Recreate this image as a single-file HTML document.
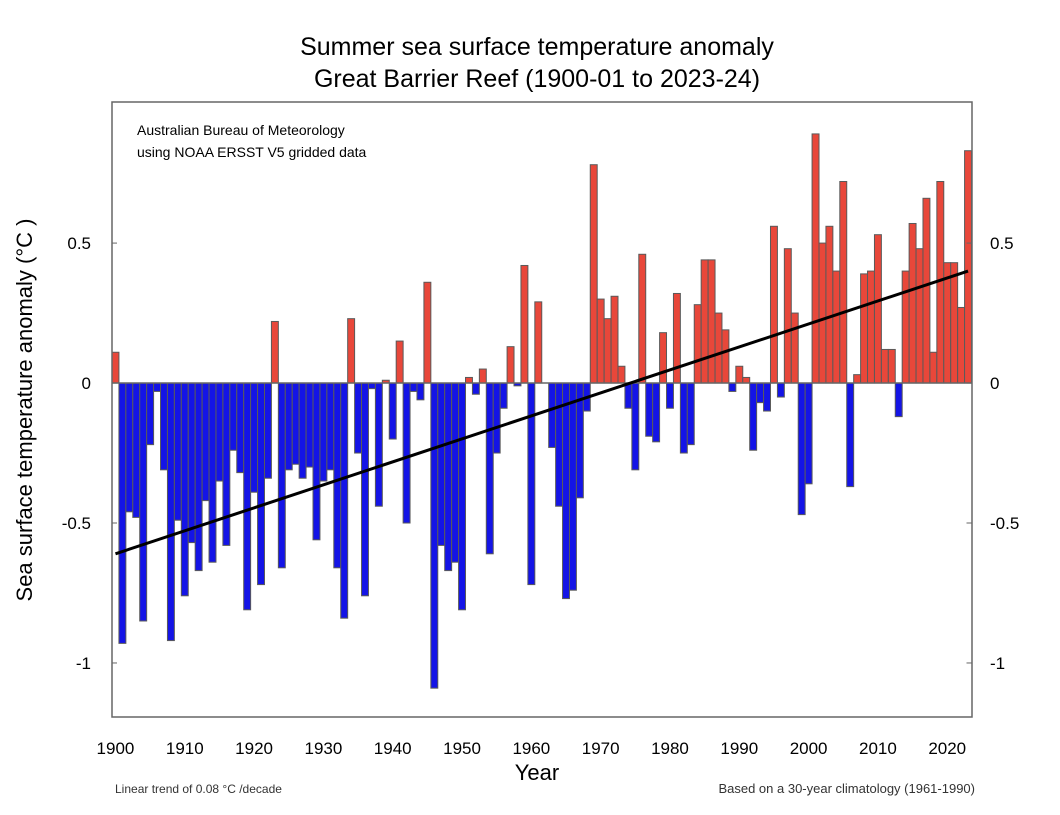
<!DOCTYPE html>
<html><head><meta charset="utf-8"><style>
body{margin:0;background:#fff;width:1060px;height:810px;overflow:hidden;font-family:"Liberation Sans",sans-serif}
</style></head><body>
<svg id="c" width="1060" height="810" font-family="Liberation Sans, sans-serif">
<text x="537" y="55" font-size="25" text-anchor="middle">Summer sea surface temperature anomaly</text>
<text x="537" y="87" font-size="25" text-anchor="middle">Great Barrier Reef (1900-01 to 2023-24)</text>
<text x="137" y="135" font-size="14">Australian Bureau of Meteorology</text>
<text x="137" y="157" font-size="14">using NOAA ERSST V5 gridded data</text>
<g id="bars"></g>
<polyline id="trend" fill="none" stroke="#000" stroke-width="3"/>
<rect x="112" y="102" width="860" height="615" fill="none" stroke="#666" stroke-width="1.5"/>
<g id="ticks"></g>
<text transform="translate(32,410) rotate(-90)" font-size="22" text-anchor="middle">Sea surface temperature anomaly (°C )</text>
<text x="537" y="780" font-size="22" text-anchor="middle">Year</text>
<text x="115" y="793" font-size="12" fill="#333">Linear trend of 0.08 °C /decade</text>
<text x="975" y="793" font-size="13" fill="#333" text-anchor="end">Based on a 30-year climatology (1961-1990)</text>
</svg>
<script>
const startYear = 1900;
const anomalies = [0.11,-0.93,-0.46,-0.48,-0.85,-0.22,-0.03,-0.31,-0.92,-0.49,
-0.76,-0.57,-0.67,-0.42,-0.64,-0.35,-0.58,-0.24,-0.32,-0.81,
-0.39,-0.72,-0.34,0.22,-0.66,-0.31,-0.29,-0.34,-0.30,-0.56,
-0.35,-0.31,-0.66,-0.84,0.23,-0.25,-0.76,-0.02,-0.44,0.01,
-0.20,0.15,-0.50,-0.03,-0.06,0.36,-1.09,-0.58,-0.67,-0.64,
-0.81,0.02,-0.04,0.05,-0.61,-0.25,-0.09,0.13,-0.01,0.42,
-0.72,0.29,0.00,-0.23,-0.44,-0.77,-0.74,-0.41,-0.10,0.78,
0.30,0.23,0.31,0.06,-0.09,-0.31,0.46,-0.19,-0.21,0.18,
-0.09,0.32,-0.25,-0.22,0.28,0.44,0.44,0.25,0.19,-0.03,
0.06,0.02,-0.24,-0.07,-0.10,0.56,-0.05,0.48,0.25,-0.47,
-0.36,0.89,0.50,0.56,0.40,0.72,-0.37,0.03,0.39,0.40,
0.53,0.12,0.12,-0.12,0.40,0.57,0.48,0.66,0.11,0.72,
0.43,0.43,0.27,0.83];
const trendEnds = [-0.61, 0.40];
const xTicks = [1900,1910,1920,1930,1940,1950,1960,1970,1980,1990,2000,2010,2020];
const yTicks = [0.5,0,-0.5,-1];
const yTickLabels = ["0.5","0","-0.5","-1"];

const NS="http://www.w3.org/2000/svg";
const x0=112,x1=971.5,yTop=102,yBot=717,vMax=1.004,vMin=-1.193;
const n=anomalies.length, bw=(x1-x0)/n;
const xL=yr=>x0+(yr-startYear)*bw;
const xC=yr=>xL(yr)+bw/2;
const y=v=>yTop+(vMax-v)/(vMax-vMin)*(yBot-yTop);
const g=document.getElementById('bars');
anomalies.forEach((v,i)=>{
  const r=document.createElementNS(NS,'rect');
  const yr=startYear+i;
  r.setAttribute('x',xL(yr));r.setAttribute('width',bw);
  r.setAttribute('y',Math.min(y(v),y(0)));r.setAttribute('height',Math.abs(y(v)-y(0)));
  r.setAttribute('fill',v>=0?'#e8473a':'#1414e6');
  r.setAttribute('stroke','#5a5a5a');r.setAttribute('stroke-width','1');
  
  
  g.appendChild(r);
});
const zl=document.createElementNS(NS,'line');
zl.setAttribute('x1',x0);zl.setAttribute('x2',x1);zl.setAttribute('y1',y(0));zl.setAttribute('y2',y(0));
zl.setAttribute('stroke','#666');zl.setAttribute('stroke-width','1.5');


g.appendChild(zl);
const lastYr=startYear+n-1;
document.getElementById('trend').setAttribute('points',xC(startYear)+','+y(trendEnds[0])+' '+xC(lastYr)+','+y(trendEnds[1]));
const t=document.getElementById('ticks');
xTicks.forEach(yr=>{
  const tx=document.createElementNS(NS,'text');
  tx.setAttribute('x',xC(yr));tx.setAttribute('y',754);tx.setAttribute('font-size','17');tx.setAttribute('text-anchor','middle');
  tx.textContent=yr;
  
  
  t.appendChild(tx);
});
yTicks.forEach((v,i)=>{
  [[91,'end',x0,x0+5],[990,'start',x1,x1-5]].forEach(([tx0,anc,a,b],side)=>{
    const tx=document.createElementNS(NS,'text');
    tx.setAttribute('x',tx0);tx.setAttribute('y',y(v)+6);tx.setAttribute('font-size','17');tx.setAttribute('text-anchor',anc);
    tx.textContent=yTickLabels[i];
    
    
    t.appendChild(tx);
    const l=document.createElementNS(NS,'line');
    l.setAttribute('x1',a);l.setAttribute('x2',b);l.setAttribute('y1',y(v));l.setAttribute('y2',y(v));l.setAttribute('stroke','#666');
    
    
    t.appendChild(l);
  });
});
</script>
</body></html>
